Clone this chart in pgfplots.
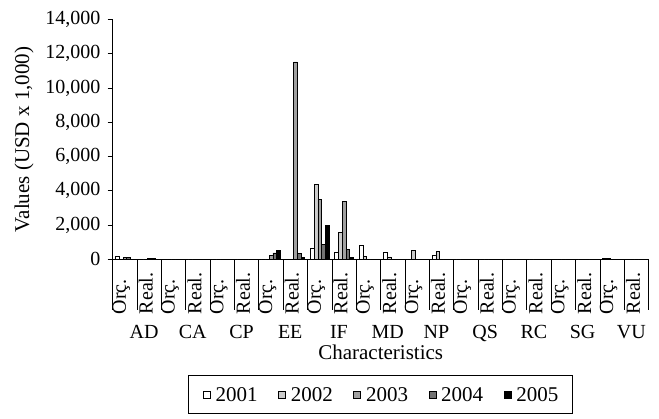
\documentclass[border=0pt]{standalone}
\usepackage{pgfplots}
\pgfplotsset{compat=1.18}
\usepackage{pgfplotstable}
\usepackage{fontspec}
\setmainfont{Liberation Serif}

\definecolor{c2001}{RGB}{255,255,255}
\definecolor{c2002}{RGB}{204,204,204}
\definecolor{c2003}{RGB}{160,160,160}
\definecolor{c2004}{RGB}{115,115,115}
\definecolor{c2005}{RGB}{0,0,0}

% budgeted (Orc.) and realised (Real.) values per characteristic, USD x 1,000
% slot 2g = Orc., slot 2g+1 = Real. of group g
\pgfplotstableread{
slot y2001 y2002 y2003 y2004 y2005
0    190   0     90    110   0
1    0     0     50    50    0
2    0     0     0     0     0
3    0     0     0     0     0
4    0     0     0     0     0
5    0     0     0     0     0
6    0     0     230   370   525
7    0     0     11520 350   120
8    640   4390  3520  890   1960
9    390   1570  3400  580   95
10   800   155   0     0     0
11   425   135   0     0     0
12   0     505   0     0     0
13   210   445   0     0     0
14   0     0     0     0     0
15   0     0     0     0     0
16   0     0     0     0     0
17   0     0     0     0     0
18   0     0     0     0     0
19   0     0     0     0     0
20   50    50    0     0     0
21   0     0     0     0     0
}\budget

\pgfplotsset{
  yrbar/.style={fill=#1, draw=black, line width=0.6bp, bar shift=0pt,
    legend image code/.code={%
      \draw[fill=#1, draw=black, line width=0.8bp] (0bp,-3.5bp) rectangle (7bp,3.5bp);
      \path (12bp,0bp);}},
}

\begin{document}
\begin{tikzpicture}[font=\fontsize{21bp}{25bp}\selectfont]
\begin{axis}[
  at={(0,0)}, anchor=south west,
  scale only axis, width=536bp, height=239.8bp,
  xmin=0, xmax=22, ymin=0, ymax=14000,
  clip=false,
  axis x line*=bottom, axis y line*=left,
  axis line style={line width=0.9bp},
  ybar, bar width=0.1538,
  tick align=outside, major tick length=5bp,
  every tick/.style={line width=0.9bp, black},
  major x tick style={draw=none},
  ytick={0,2000,...,14000},
  scaled y ticks=false,
  /pgf/number format/1000 sep={,},
  /pgf/number format/assume math mode=true,
  tick label style={font=\fontsize{20bp}{24bp}\selectfont},
  yticklabel style={inner sep=0pt, xshift=-7bp},
  xtick={0.5,1.5,...,21.5},
  xticklabels={Orç.,Real.,Orç.,Real.,Orç.,Real.,Orç.,Real.,Orç.,Real.,Orç.,Real.,
               Orç.,Real.,Orç.,Real.,Orç.,Real.,Orç.,Real.,Orç.,Real.},
  xticklabel style={inner sep=0pt, yshift=-50bp, xshift=-3.5bp, rotate=90, anchor=west},
  extra x ticks={1,3,...,21},
  extra x tick labels={AD,CA,CP,EE,IF,MD,NP,QS,RC,SG,VU},
  extra x tick style={every x tick label/.style={anchor=north, inner sep=0pt,
      yshift=-61bp, xshift=7bp}},
  ylabel={Values (USD x 1,000)},
  every axis y label/.style={at={(axis description cs:-0.1655,0.5)}, anchor=center, rotate=90},
  xlabel={Characteristics},
  every axis x label/.style={at={(axis description cs:0.5,-0.387)}, anchor=center},
  label style={font=\fontsize{21bp}{25bp}\selectfont},
  legend columns=5,
  legend style={at={(axis description cs:0.5,-0.4825)}, anchor=north,
    draw=black, line width=0.9bp, fill=white,
    inner xsep=14bp, inner ysep=12bp,
    font=\fontsize{21bp}{25bp}\selectfont,
    nodes={inner xsep=0pt, inner ysep=0pt, text height=14bp, text depth=0bp},
    /tikz/every even column/.append style={column sep=20.5bp}},
]
\addplot[yrbar=c2001] table[x expr=\thisrow{slot}+0.5-0.3077, y=y2001] {\budget};
\addplot[yrbar=c2002] table[x expr=\thisrow{slot}+0.5-0.1538, y=y2002] {\budget};
\addplot[yrbar=c2003] table[x expr=\thisrow{slot}+0.5, y=y2003] {\budget};
\addplot[yrbar=c2004] table[x expr=\thisrow{slot}+0.5+0.1538, y=y2004] {\budget};
\addplot[yrbar=c2005] table[x expr=\thisrow{slot}+0.5+0.3077, y=y2005] {\budget};
\legend{2001,2002,2003,2004,2005}
% category separators below the axis
\pgfplotsinvokeforeach{0,...,22}{
  \draw[line width=0.9bp] (axis cs:#1,0) -- ([yshift=-51bp]axis cs:#1,0);
}
\end{axis}
\pgfresetboundingbox
\path[use as bounding box] (-112.7bp,-159.7bp) rectangle (546.3bp,259.3bp);
\end{tikzpicture}
\end{document}
